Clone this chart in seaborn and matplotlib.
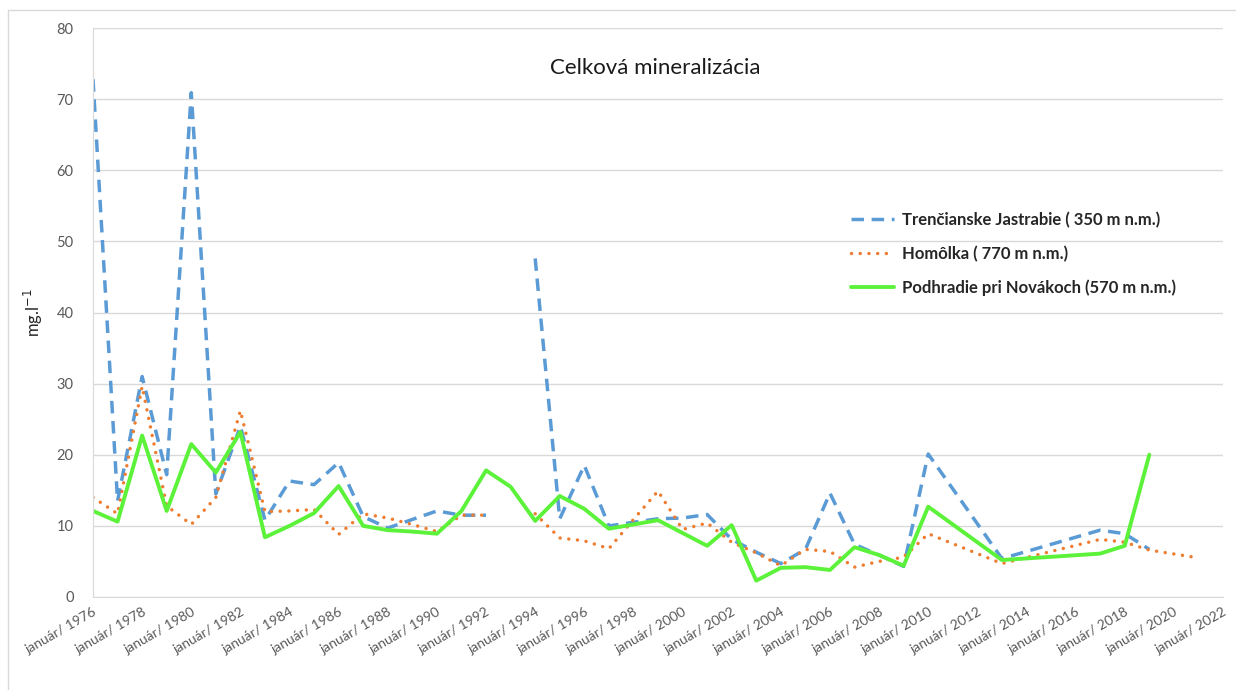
import pandas as pd
import matplotlib.pyplot as plt
import seaborn as sns
from matplotlib.lines import Line2D

# Údaje odčítané z grafu (mg.l-1), januárové odbery
roky = [1976, 1977, 1978, 1979, 1980, 1981, 1982, 1983, 1984, 1985,
        1986, 1987, 1988, 1989, 1990, 1991, 1992, 1993, 1994, 1995,
        1996, 1997, 1998, 1999, 2000, 2001, 2002, 2003, 2004, 2005,
        2006, 2007, 2008, 2009, 2010, 2013, 2017, 2018, 2019, 2021]

trencianske = [72.8, 13.5, 31.0, 17.2, 70.9, 14.5, 24.0, 10.8, 16.3, 15.8,
               18.9, 11.3, 9.7, 10.9, 12.1, 11.5, 11.5, None, 47.6, 11.0,
               18.5, 10.0, 10.5, 11.0, 11.1, 11.6, 8.1, 6.3, 4.7, 6.7,
               14.6, 7.4, 5.9, 4.3, 20.1, 5.4, 9.4, 8.9, 6.7, None]

homolka = [14.0, 11.7, 29.6, 12.8, 10.2, 14.0, 26.2, 12.0, 12.1, 12.3,
           8.8, 11.7, 11.1, 10.2, 9.2, 11.5, 11.5, None, 11.7, 8.3,
           7.9, 6.8, 10.9, 14.9, 9.5, 10.4, 7.7, 6.2, 4.4, 6.7,
           6.4, 4.2, 5.0, 5.6, 8.9, 4.7, 8.1, 7.7, 6.6, 5.5]

podhradie = [12.1, 10.6, 22.7, 12.1, 21.5, 17.5, 23.2, 8.4, 10.0, 11.8,
             15.6, 10.0, 9.4, 9.2, 8.9, 12.1, 17.8, 15.5, 10.7, 14.2,
             12.4, 9.6, 10.2, 10.8, 9.0, 7.2, 10.1, 2.3, 4.1, 4.2,
             3.8, 7.0, 5.9, 4.4, 12.7, 5.2, 6.1, 7.2, 20.0, None]

nazvy = ['Trenčianske Jastrabie ( 350 m n.m.)',
         'Homôlka ( 770 m n.m.)',
         'Podhradie pri Novákoch (570 m n.m.)']
farby = ['#5b9bd5', '#ed7d31', '#5cf23a']
tick_roky = [1976, 1978, 1980, 1982, 1984, 1986, 1988, 1990, 1992, 1994,
             1996, 1998, 2000, 2002, 2004, 2006, 2008, 2010, 2012, 2014,
             2016, 2018, 2020, 2022]

df = pd.DataFrame({'rok': roky, nazvy[0]: trencianske, nazvy[1]: homolka, nazvy[2]: podhradie})
dlhy = df.melt(id_vars='rok', var_name='stanica', value_name='hodnota')
# chýbajúca hodnota = prerušenie čiary
dlhy['usek'] = dlhy.groupby('stanica')['hodnota'].transform(lambda s: s.isna().cumsum())
dlhy = dlhy.dropna()

sns.set_style('white')
plt.rcParams['font.family'] = ['Lato', 'DejaVu Sans']

fig = plt.figure(figsize=(12.36, 6.9), dpi=100)
ax = fig.add_axes([93 / 1236, 1 - 597 / 690, 1130 / 1236, 569 / 690])

styly = {
    nazvy[0]: dict(linestyle=(0, (3.6, 2.2)), linewidth=2.5, dash_capstyle='butt'),
    nazvy[1]: dict(linestyle=(0, (0.01, 2.5)), linewidth=2.5, dash_capstyle='round'),
    nazvy[2]: dict(linestyle='-', linewidth=2.8),
}

handles = []
for nazov, farba in zip(nazvy, farby):
    sub = dlhy[dlhy['stanica'] == nazov]
    sns.lineplot(data=sub, x='rok', y='hodnota', units='usek', estimator=None,
                 color=farba, ax=ax, legend=False, **styly[nazov])
    handles.append(Line2D([], [], color=farba, **styly[nazov]))

ax.set_xlim(1976, 2022)
ax.set_ylim(0, 80)
ax.set_yticks(range(0, 81, 10))
ax.set_xticks(tick_roky)
ax.set_xticklabels([f'január/ {r}' for r in tick_roky], rotation=30,
                   ha='right', va='top', rotation_mode='anchor')
ax.tick_params(axis='x', length=0, pad=6, labelsize=10, labelcolor='#595959')
ax.tick_params(axis='y', length=0, pad=14, labelsize=10.5, labelcolor='#595959')
ax.yaxis.grid(True, color='#d9d9d9', linewidth=1)
ax.set_axisbelow(True)
for s in ['top', 'right']:
    ax.spines[s].set_visible(False)
for s in ['left', 'bottom']:
    ax.spines[s].set_color('#d9d9d9')
ax.set_xlabel('')
ax.set_ylabel('mg.l$^{-1}$', fontsize=12, labelpad=8)

fig.text(655 / 1236, 1 - 68 / 690, 'Celková mineralizácia', ha='center', va='center',
         fontsize=16, color='#1a1a1a')

leg = ax.legend(handles, nazvy, loc='upper left', bbox_to_anchor=(836 / 1236, 1 - 197 / 690),
                bbox_transform=fig.transFigure, frameon=False, handlelength=2.6,
                labelspacing=1.05, handletextpad=0.45, prop={'weight': 'bold', 'size': 12})

# rámik grafu
fig.add_artist(Line2D([8 / 1236, 8 / 1236], [0, 1 - 10 / 690], transform=fig.transFigure,
                      color='#d9d9d9', linewidth=1))
fig.add_artist(Line2D([8 / 1236, 1], [1 - 10 / 690, 1 - 10 / 690], transform=fig.transFigure,
                      color='#d9d9d9', linewidth=1))

fig.savefig('out.png', dpi=100)
